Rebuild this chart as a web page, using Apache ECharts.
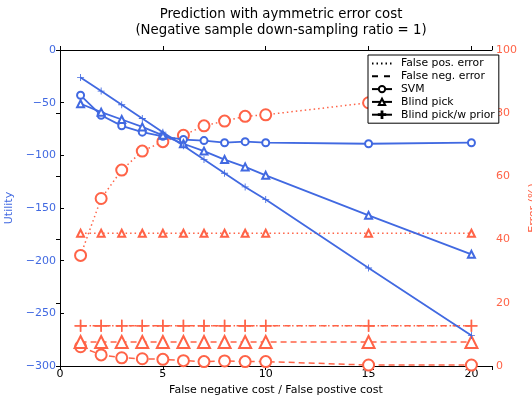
<!DOCTYPE html>
<html><head><meta charset="utf-8">
<script src="https://cdn.jsdelivr.net/npm/echarts@6/dist/echarts.min.js"></script>
<style>html,body{margin:0;padding:0;background:#fff}#c{width:532px;height:402px}</style>
</head><body><div id="c"></div>
<script>
const xCost = [1,2,3,4,5,6,7,8,9,10,15,20];
const svmUtility = [-43,-62,-72,-78,-82,-85,-86,-88,-87,-88,-89,-88];
const blindUtility = [-51,-59,-66,-73,-81,-89,-96,-104,-111,-119,-157,-194];
const priorUtility = [-26,-39,-52,-65,-78,-91,-104,-117,-130,-142,-207,-271];
const svmFalsePos = [35,53,62,68,71,73,76,77.5,79,79.5,83.3,84.4];
const svmFalseNeg = [6.1,3.5,2.6,2.3,2.1,1.7,1.4,1.6,1.4,1.4,0.3,0.3];
const blindFalsePos = [42,42,42,42,42,42,42,42,42,42,42,42];
const blindFalseNeg = [7.6,7.6,7.6,7.6,7.6,7.6,7.6,7.6,7.6,7.6,7.6,7.6];
const priorFalsePos = [12.7,12.7,12.7,12.7,12.7,12.7,12.7,12.7,12.7,12.7,12.7,12.7];
const priorFalseNeg = [12.7,12.7,12.7,12.7,12.7,12.7,12.7,12.7,12.7,12.7,12.7,12.7];
const utilityTicks = [-300,-250,-200,-150,-100,-50,0];
const errorTicks = [0,20,40,60,80,100];

const BLUE = '#4169E1', RED = '#FF6347';
const FONT = 'DejaVu Sans';
const PLUS = 'path://M0,4.4H10V5.6H0Z M4.4,0H5.6V10H4.4Z';
const pairs = a => a.map((v,i)=>[xCost[i], v]);
const minus = v => String(v).replace('-', '\u2212');

function s(name, data, yi, color, type, symbol, size, width) {
  return {
    name, type:'line', yAxisIndex: yi, data: pairs(data),
    symbol, symbolSize: size, showSymbol: true,
    lineStyle: {color, width: width||1.5, type},
    itemStyle: symbol===PLUS ? {color} : {color: color, borderColor: color, borderWidth: 1},
    emphasis: {disabled:true}, animation:false, z: yi===0?3:2
  };
}
function legendSeries(name, type, symbol) {
  const none = symbol === 'none';
  return {name, type:'line', data:[], symbol, symbolSize: 6,
    lineStyle:{color:'#000', width:1.1, type},
    itemStyle: none ? {color:'transparent', borderColor:'transparent', borderWidth:0}
                    : {color:'#000', borderColor:'#000', borderWidth:1},
    animation:false};
}

const chart = echarts.init(document.getElementById('c'));
chart.setOption({
  animation:false,
  title: {text:'Prediction with aymmetric error cost\n(Negative sample down-sampling ratio = 1)',
    left: 276, textAlign:'center', top: 2,
    textStyle:{fontFamily:FONT, fontSize:13.3, fontWeight:'normal', color:'#000', lineHeight:16}},
  grid: {left:60, right:40, top:50, bottom:36, containLabel:false, outerBoundsMode:'none'},
  legend: {orient:'vertical', left:368, top:55, width:121,
    itemWidth:20, itemHeight:8, itemGap:1.8, padding:[3,4,3,3],
    borderColor:'#000', borderWidth:1, backgroundColor:'#fff',
    textStyle:{fontFamily:FONT, fontSize:10.8, color:'#000', padding:[0,0,0,4]},
    data:['False pos. error','False neg. error','SVM','Blind pick','Blind pick/w prior']},
  xAxis: [
    {type:'value', min:0, max:21, interval:5, position:'bottom',
     name:'False negative cost / False postive cost', nameLocation:'middle', nameGap:18,
     nameTextStyle:{fontFamily:FONT, fontSize:11, color:'#000'},
     axisLine:{lineStyle:{color:'#000', width:1}},
     axisTick:{inside:true, length:4, lineStyle:{color:'#000'}},
     axisLabel:{fontFamily:FONT, fontSize:11, color:'#000', margin:3,
       formatter: v => (v%5===0 ? String(v) : '')},
     splitLine:{show:false}},
    {type:'value', min:0, max:21, interval:5, position:'top',
     axisLine:{lineStyle:{color:'#000', width:1}},
     axisTick:{inside:true, length:4, lineStyle:{color:'#000'}},
     axisLabel:{show:false}, splitLine:{show:false}}
  ],
  yAxis: [
    {type:'value', min:-300, max:0, interval:50, position:'left',
     name:'Utility', nameLocation:'middle', nameGap:44, nameRotate:90,
     nameTextStyle:{fontFamily:FONT, fontSize:11, color:BLUE},
     axisLine:{show:true, lineStyle:{color:'#000', width:1}},
     axisTick:{show:true, inside:true, length:4, lineStyle:{color:'#000'}},
     axisLabel:{fontFamily:FONT, fontSize:11, color:BLUE, margin:4,
       formatter: v => utilityTicks.includes(v) ? minus(v) : ''},
     splitLine:{show:false}},
    {type:'value', min:0, max:100, interval:20, position:'right',
     name:'Error (%)', nameLocation:'middle', nameGap:27, nameRotate:90,
     nameTextStyle:{fontFamily:FONT, fontSize:11, color:RED},
     axisLine:{show:true, lineStyle:{color:'#000', width:1}},
     axisTick:{show:true, inside:true, length:4, lineStyle:{color:'#000'}},
     axisLabel:{fontFamily:FONT, fontSize:11, color:RED, margin:4,
       formatter: v => errorTicks.includes(v) ? String(v) : ''},
     splitLine:{show:false}}
  ],
  series: [
    s('svmFP', svmFalsePos, 1, RED, [1.5,3], 'emptyCircle', 11, 1.5),
    s('svmFN', svmFalseNeg, 1, RED, [6,4], 'emptyCircle', 11, 1.5),
    s('blindFP', blindFalsePos, 1, RED, [1.5,3], 'emptyTriangle', 7, 1.5),
    s('blindFN', blindFalseNeg, 1, RED, [6,4], 'emptyTriangle', 12, 1.5),
    s('priorFP', priorFalsePos, 1, RED, [1.5,3], PLUS, 12, 1.5),
    s('priorFN', priorFalseNeg, 1, RED, [6,6], PLUS, 12, 1.5),
    s('svmU', svmUtility, 0, BLUE, 'solid', 'emptyCircle', 7, 1.8),
    s('blindU', blindUtility, 0, BLUE, 'solid', 'emptyTriangle', 7, 1.8),
    s('priorU', priorUtility, 0, BLUE, 'solid', PLUS, 7, 1.8),
    legendSeries('False pos. error', [1.5,3], 'none'),
    legendSeries('False neg. error', [6,6], 'none'),
    legendSeries('SVM', 'solid', 'emptyCircle'),
    legendSeries('Blind pick', 'solid', 'emptyTriangle'),
    legendSeries('Blind pick/w prior', 'solid', PLUS)
  ]
});
</script></body></html>
